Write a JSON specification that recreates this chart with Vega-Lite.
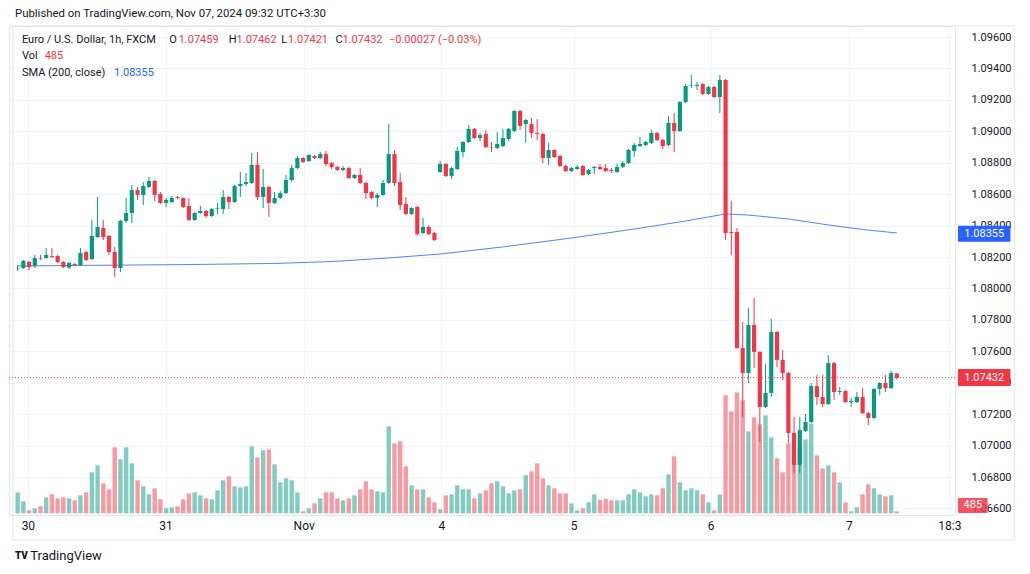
{
"$schema": "https://vega.github.io/schema/vega-lite/v6.json",
"width": 946, "height": 489,
"autosize": {"type": "none"},
"padding": {"left": 9, "top": 26, "right": 75, "bottom": 59},
"background": "#ffffff",
"config": {
  "view": {"stroke": "#E0E3EB"},
  "font": "Roboto",
  "axis": {"domain": false, "ticks": false, "gridColor": "#F0F3FA", "gridWidth": 1, "labelColor": "#131722", "labelFont": "Roboto", "title": null},
  "axisX": {"labelFontSize": 12, "labelPadding": 5},
  "axisY": {"labelFontSize": 11, "labelPadding": 16, "labelOverlap": false, "labelFlush": false, "labelBound": false, "tickCount": 20}
},
"data": {"values": [{}]},
"datasets": {
"candles": [
{"i":0,"o":1.08127,"h":1.08149,"l":1.08111,"c":1.0813,"v":5040},
{"i":1,"o":1.0813,"h":1.08181,"l":1.08124,"c":1.08175,"v":2880},
{"i":2,"o":1.08168,"h":1.08175,"l":1.08117,"c":1.08136,"v":720},
{"i":3,"o":1.08143,"h":1.08213,"l":1.0813,"c":1.08194,"v":1200},
{"i":4,"o":1.08194,"h":1.08213,"l":1.08181,"c":1.08191,"v":1680},
{"i":5,"o":1.08194,"h":1.08257,"l":1.08187,"c":1.08213,"v":3840},
{"i":6,"o":1.08206,"h":1.08257,"l":1.08194,"c":1.082,"v":4560},
{"i":7,"o":1.08206,"h":1.08213,"l":1.08162,"c":1.08168,"v":3600},
{"i":8,"o":1.08168,"h":1.08175,"l":1.0813,"c":1.08136,"v":3840},
{"i":9,"o":1.08133,"h":1.08168,"l":1.08124,"c":1.08162,"v":3600},
{"i":10,"o":1.08155,"h":1.08162,"l":1.08143,"c":1.08149,"v":3120},
{"i":11,"o":1.08149,"h":1.08257,"l":1.08143,"c":1.08226,"v":4320},
{"i":12,"o":1.08232,"h":1.08238,"l":1.08175,"c":1.08181,"v":5040},
{"i":13,"o":1.08187,"h":1.08436,"l":1.08181,"c":1.08334,"v":9840},
{"i":14,"o":1.08327,"h":1.08582,"l":1.08321,"c":1.08391,"v":11520},
{"i":15,"o":1.08385,"h":1.08436,"l":1.08308,"c":1.08327,"v":7200},
{"i":16,"o":1.08334,"h":1.0834,"l":1.08213,"c":1.08232,"v":5760},
{"i":17,"o":1.08232,"h":1.08264,"l":1.08073,"c":1.0813,"v":15840},
{"i":18,"o":1.0813,"h":1.08436,"l":1.08105,"c":1.08429,"v":12960},
{"i":19,"o":1.08429,"h":1.08576,"l":1.08416,"c":1.0848,"v":15840},
{"i":20,"o":1.0848,"h":1.08658,"l":1.08416,"c":1.08626,"v":12000},
{"i":21,"o":1.08626,"h":1.08646,"l":1.08563,"c":1.08595,"v":7920},
{"i":22,"o":1.08595,"h":1.08677,"l":1.08531,"c":1.08652,"v":6480},
{"i":23,"o":1.08646,"h":1.08709,"l":1.08639,"c":1.08684,"v":4560},
{"i":24,"o":1.08684,"h":1.0869,"l":1.08556,"c":1.08595,"v":6000},
{"i":25,"o":1.08601,"h":1.08614,"l":1.08537,"c":1.08544,"v":3360},
{"i":26,"o":1.08544,"h":1.08576,"l":1.08518,"c":1.08563,"v":1200},
{"i":27,"o":1.0855,"h":1.08588,"l":1.08544,"c":1.08576,"v":1440},
{"i":28,"o":1.08582,"h":1.08588,"l":1.08569,"c":1.08576,"v":1680},
{"i":29,"o":1.08576,"h":1.08576,"l":1.08512,"c":1.08518,"v":3360},
{"i":30,"o":1.08525,"h":1.08576,"l":1.08429,"c":1.08436,"v":4800},
{"i":31,"o":1.08436,"h":1.08486,"l":1.08429,"c":1.0848,"v":5040},
{"i":32,"o":1.0848,"h":1.08525,"l":1.08474,"c":1.08493,"v":4320},
{"i":33,"o":1.08493,"h":1.08499,"l":1.08448,"c":1.08461,"v":3600},
{"i":34,"o":1.08461,"h":1.08512,"l":1.08455,"c":1.08505,"v":3360},
{"i":35,"o":1.08505,"h":1.08544,"l":1.08474,"c":1.08509,"v":5520},
{"i":36,"o":1.08505,"h":1.08626,"l":1.08474,"c":1.08582,"v":7920},
{"i":37,"o":1.08582,"h":1.08588,"l":1.08505,"c":1.0855,"v":8880},
{"i":38,"o":1.0855,"h":1.08658,"l":1.08544,"c":1.08652,"v":6480},
{"i":39,"o":1.08652,"h":1.08741,"l":1.08582,"c":1.08665,"v":6240},
{"i":40,"o":1.08665,"h":1.08735,"l":1.08652,"c":1.08677,"v":6480},
{"i":41,"o":1.08671,"h":1.08862,"l":1.08665,"c":1.08786,"v":16080},
{"i":42,"o":1.08786,"h":1.08868,"l":1.08563,"c":1.08582,"v":13440},
{"i":43,"o":1.08582,"h":1.0876,"l":1.08512,"c":1.08646,"v":15120},
{"i":44,"o":1.08646,"h":1.08652,"l":1.08455,"c":1.08544,"v":15360},
{"i":45,"o":1.08544,"h":1.08614,"l":1.08537,"c":1.08576,"v":11760},
{"i":46,"o":1.08576,"h":1.0862,"l":1.08569,"c":1.08607,"v":7440},
{"i":47,"o":1.08607,"h":1.08722,"l":1.08601,"c":1.0869,"v":8400},
{"i":48,"o":1.0869,"h":1.08786,"l":1.08677,"c":1.08766,"v":7920},
{"i":49,"o":1.08766,"h":1.08843,"l":1.0876,"c":1.0883,"v":5040},
{"i":50,"o":1.0883,"h":1.08836,"l":1.08798,"c":1.08805,"v":480},
{"i":51,"o":1.08811,"h":1.08855,"l":1.08805,"c":1.08849,"v":1200},
{"i":52,"o":1.08843,"h":1.08849,"l":1.08824,"c":1.0883,"v":2400},
{"i":53,"o":1.0883,"h":1.08868,"l":1.08824,"c":1.08855,"v":3600},
{"i":54,"o":1.08855,"h":1.08875,"l":1.08779,"c":1.08792,"v":5040},
{"i":55,"o":1.08798,"h":1.08805,"l":1.0876,"c":1.08773,"v":5040},
{"i":56,"o":1.08773,"h":1.08779,"l":1.08747,"c":1.08754,"v":3600},
{"i":57,"o":1.08754,"h":1.08779,"l":1.08747,"c":1.08766,"v":3120},
{"i":58,"o":1.08766,"h":1.08773,"l":1.08696,"c":1.08703,"v":3600},
{"i":59,"o":1.08703,"h":1.08728,"l":1.08696,"c":1.08722,"v":4320},
{"i":60,"o":1.08722,"h":1.08766,"l":1.08665,"c":1.08671,"v":5760},
{"i":61,"o":1.08671,"h":1.08677,"l":1.08569,"c":1.08607,"v":7680},
{"i":62,"o":1.08614,"h":1.0862,"l":1.08569,"c":1.08576,"v":5760},
{"i":63,"o":1.08576,"h":1.08607,"l":1.08518,"c":1.08595,"v":5280},
{"i":64,"o":1.08595,"h":1.0869,"l":1.08588,"c":1.08671,"v":5040},
{"i":65,"o":1.08671,"h":1.09046,"l":1.08665,"c":1.08855,"v":20880},
{"i":66,"o":1.08855,"h":1.08881,"l":1.08652,"c":1.08671,"v":16800},
{"i":67,"o":1.08677,"h":1.08735,"l":1.08499,"c":1.08531,"v":17280},
{"i":68,"o":1.08537,"h":1.08582,"l":1.08467,"c":1.08474,"v":11280},
{"i":69,"o":1.08474,"h":1.08518,"l":1.08467,"c":1.08512,"v":6720},
{"i":70,"o":1.08518,"h":1.08525,"l":1.08334,"c":1.08346,"v":5760},
{"i":71,"o":1.08353,"h":1.08448,"l":1.08346,"c":1.08391,"v":5760},
{"i":72,"o":1.08391,"h":1.08404,"l":1.0834,"c":1.08346,"v":3840},
{"i":73,"o":1.08353,"h":1.08359,"l":1.08302,"c":1.08308,"v":2640},
{"i":74,"o":1.08741,"h":1.08811,"l":1.08735,"c":1.08792,"v":960},
{"i":75,"o":1.08792,"h":1.08798,"l":1.08709,"c":1.08715,"v":4320},
{"i":76,"o":1.08715,"h":1.08773,"l":1.08696,"c":1.08766,"v":4560},
{"i":77,"o":1.0876,"h":1.089,"l":1.08754,"c":1.08875,"v":6720},
{"i":78,"o":1.08868,"h":1.08938,"l":1.08836,"c":1.08932,"v":5760},
{"i":79,"o":1.08932,"h":1.0904,"l":1.08926,"c":1.09015,"v":5760},
{"i":80,"o":1.09015,"h":1.09021,"l":1.08951,"c":1.08957,"v":3600},
{"i":81,"o":1.08957,"h":1.08989,"l":1.08938,"c":1.08976,"v":4800},
{"i":82,"o":1.08983,"h":1.09008,"l":1.08894,"c":1.089,"v":5520},
{"i":83,"o":1.089,"h":1.08932,"l":1.08868,"c":1.08897,"v":7200},
{"i":84,"o":1.08894,"h":1.08995,"l":1.08887,"c":1.08919,"v":7680},
{"i":85,"o":1.08906,"h":1.09015,"l":1.089,"c":1.08957,"v":6480},
{"i":86,"o":1.08951,"h":1.09021,"l":1.08938,"c":1.09015,"v":4800},
{"i":87,"o":1.09002,"h":1.09136,"l":1.08995,"c":1.09129,"v":5520},
{"i":88,"o":1.09129,"h":1.09136,"l":1.09008,"c":1.09034,"v":5760},
{"i":89,"o":1.09046,"h":1.09078,"l":1.08926,"c":1.09072,"v":9120},
{"i":90,"o":1.09046,"h":1.09085,"l":1.08957,"c":1.08989,"v":10080},
{"i":91,"o":1.08989,"h":1.09078,"l":1.08945,"c":1.08983,"v":12000},
{"i":92,"o":1.08983,"h":1.08989,"l":1.08798,"c":1.0883,"v":8400},
{"i":93,"o":1.0883,"h":1.08926,"l":1.08786,"c":1.08881,"v":6720},
{"i":94,"o":1.08881,"h":1.08887,"l":1.0883,"c":1.08836,"v":6000},
{"i":95,"o":1.08843,"h":1.08849,"l":1.08773,"c":1.08779,"v":4800},
{"i":96,"o":1.08779,"h":1.08786,"l":1.08741,"c":1.08747,"v":4800},
{"i":97,"o":1.08747,"h":1.08773,"l":1.08741,"c":1.08766,"v":2400},
{"i":98,"o":1.0876,"h":1.08786,"l":1.08754,"c":1.08773,"v":720},
{"i":99,"o":1.08779,"h":1.08786,"l":1.08715,"c":1.08722,"v":1200},
{"i":100,"o":1.08728,"h":1.0876,"l":1.08722,"c":1.08754,"v":2640},
{"i":101,"o":1.08766,"h":1.08779,"l":1.08728,"c":1.08773,"v":4560},
{"i":102,"o":1.08773,"h":1.08792,"l":1.08754,"c":1.0876,"v":3240},
{"i":103,"o":1.08766,"h":1.08792,"l":1.08741,"c":1.08747,"v":3480},
{"i":104,"o":1.08754,"h":1.08766,"l":1.08735,"c":1.08747,"v":3120},
{"i":105,"o":1.08741,"h":1.08792,"l":1.08735,"c":1.08773,"v":3120},
{"i":106,"o":1.08773,"h":1.08811,"l":1.08766,"c":1.08798,"v":3120},
{"i":107,"o":1.08798,"h":1.08887,"l":1.08792,"c":1.08881,"v":4560},
{"i":108,"o":1.08875,"h":1.08926,"l":1.08836,"c":1.08913,"v":5760},
{"i":109,"o":1.08906,"h":1.08964,"l":1.089,"c":1.08919,"v":5040},
{"i":110,"o":1.08913,"h":1.08938,"l":1.08906,"c":1.08932,"v":4080},
{"i":111,"o":1.08926,"h":1.09008,"l":1.08919,"c":1.08989,"v":4560},
{"i":112,"o":1.08989,"h":1.08995,"l":1.08938,"c":1.08945,"v":4320},
{"i":113,"o":1.08945,"h":1.08951,"l":1.08887,"c":1.08906,"v":6000},
{"i":114,"o":1.08913,"h":1.09097,"l":1.08906,"c":1.09053,"v":9360},
{"i":115,"o":1.09053,"h":1.09116,"l":1.08868,"c":1.09002,"v":13680},
{"i":116,"o":1.09002,"h":1.09193,"l":1.08995,"c":1.09186,"v":7440},
{"i":117,"o":1.09186,"h":1.09301,"l":1.0918,"c":1.09288,"v":5520},
{"i":118,"o":1.09288,"h":1.09358,"l":1.09276,"c":1.09291,"v":6000},
{"i":119,"o":1.09288,"h":1.09314,"l":1.09263,"c":1.09295,"v":5520},
{"i":120,"o":1.09301,"h":1.09307,"l":1.09231,"c":1.09237,"v":4560},
{"i":121,"o":1.09237,"h":1.09288,"l":1.09231,"c":1.09282,"v":2640},
{"i":122,"o":1.09282,"h":1.09288,"l":1.09212,"c":1.09218,"v":720},
{"i":123,"o":1.09218,"h":1.09358,"l":1.09116,"c":1.09326,"v":4560},
{"i":124,"o":1.09326,"h":1.09333,"l":1.08308,"c":1.08353,"v":28320},
{"i":125,"o":1.08359,"h":1.08556,"l":1.08213,"c":1.08353,"v":24480},
{"i":126,"o":1.08359,"h":1.08385,"l":1.07615,"c":1.07621,"v":29040},
{"i":127,"o":1.07621,"h":1.07786,"l":1.07182,"c":1.07462,"v":27120},
{"i":128,"o":1.07462,"h":1.07876,"l":1.07398,"c":1.07767,"v":19680},
{"i":129,"o":1.07767,"h":1.07939,"l":1.07494,"c":1.07596,"v":23040},
{"i":130,"o":1.07596,"h":1.07602,"l":1.07023,"c":1.07246,"v":21360},
{"i":131,"o":1.07246,"h":1.07519,"l":1.07239,"c":1.07335,"v":23520},
{"i":132,"o":1.07335,"h":1.07806,"l":1.07309,"c":1.07723,"v":18240},
{"i":133,"o":1.07723,"h":1.07729,"l":1.075,"c":1.07545,"v":13200},
{"i":134,"o":1.07545,"h":1.07608,"l":1.07417,"c":1.07462,"v":9840},
{"i":135,"o":1.07462,"h":1.07468,"l":1.07016,"c":1.0708,"v":16800},
{"i":136,"o":1.0708,"h":1.07182,"l":1.06826,"c":1.06877,"v":12000},
{"i":137,"o":1.06877,"h":1.07182,"l":1.06826,"c":1.07099,"v":15600},
{"i":138,"o":1.07093,"h":1.07201,"l":1.07086,"c":1.0715,"v":17760},
{"i":139,"o":1.0715,"h":1.07398,"l":1.07144,"c":1.07379,"v":21600},
{"i":140,"o":1.07379,"h":1.07449,"l":1.07258,"c":1.07309,"v":13920},
{"i":141,"o":1.07309,"h":1.07449,"l":1.07246,"c":1.07265,"v":10800},
{"i":142,"o":1.07265,"h":1.07576,"l":1.07258,"c":1.07525,"v":11520},
{"i":143,"o":1.07525,"h":1.07532,"l":1.0729,"c":1.07341,"v":9840},
{"i":144,"o":1.07341,"h":1.07373,"l":1.07322,"c":1.07347,"v":7440},
{"i":145,"o":1.07347,"h":1.07354,"l":1.07271,"c":1.07277,"v":2640},
{"i":146,"o":1.07277,"h":1.07303,"l":1.07246,"c":1.07284,"v":480},
{"i":147,"o":1.07277,"h":1.07341,"l":1.07271,"c":1.07309,"v":1440},
{"i":148,"o":1.07309,"h":1.07366,"l":1.07201,"c":1.07207,"v":4560},
{"i":149,"o":1.07207,"h":1.07214,"l":1.07131,"c":1.07176,"v":6960},
{"i":150,"o":1.07176,"h":1.07366,"l":1.07169,"c":1.0736,"v":6000},
{"i":151,"o":1.0736,"h":1.07405,"l":1.07322,"c":1.07398,"v":4560},
{"i":152,"o":1.07398,"h":1.07449,"l":1.07341,"c":1.07366,"v":4080},
{"i":153,"o":1.07366,"h":1.07475,"l":1.0736,"c":1.07462,"v":4320},
{"i":154,"o":1.07459,"h":1.07462,"l":1.07421,"c":1.07432,"v":485}
],
"sma": [
{"i":0,"s":1.08143},{"i":10,"s":1.08146},{"i":20,"s":1.08149},{"i":30,"s":1.08152},{"i":45,"s":1.08159},{"i":55,"s":1.08171},{"i":65,"s":1.08194},{"i":74,"s":1.08219},{"i":85,"s":1.08264},{"i":97,"s":1.08321},{"i":108,"s":1.08378},{"i":117,"s":1.08429},{"i":124,"s":1.08474},{"i":128,"s":1.08467},{"i":135,"s":1.08442},{"i":142,"s":1.08404},{"i":148,"s":1.08375},{"i":154,"s":1.08353}
]
},
"resolve": {"scale": {"y": "independent"}},
"layer": [
{
  "data": {"name": "candles"},
  "mark": {"type": "bar", "width": 4.4, "opacity": 0.5},
  "encoding": {
    "x": {"field": "i", "type": "quantitative", "title": null,
      "scale": {"domain": [-0.641, 163.31], "nice": false, "zero": false},
      "axis": {"values": [1.79, 25.9, 50.1, 74.2, 97.4, 121.4, 145.6, 163.2], "tickCount": 30,
        "labelExpr": "datum.value < 10 ? '30' : datum.value < 40 ? '31' : datum.value < 60 ? 'Nov' : datum.value < 85 ? '4' : datum.value < 110 ? '5' : datum.value < 135 ? '6' : datum.value < 155 ? '7' : '18:3'",
        "labelOverlap": false, "labelFlush": false, "labelBound": false, "grid": true}},
    "y": {"field": "v", "type": "quantitative", "title": null, "scale": {"domain": [-400, 117000], "nice": false, "zero": false}, "axis": null},
    "y2": {"datum": 0},
    "color": {"condition": {"test": "datum.c >= datum.o", "value": "#089981"}, "value": "#F23645"}
  }
},
{
  "layer": [
    {
      "data": {"name": "sma"},
      "mark": {"type": "line", "color": "#2962FF", "strokeWidth": 1, "opacity": 0.8},
      "encoding": {
        "x": {"field": "i", "type": "quantitative", "title": null},
        "y": {"field": "s", "type": "quantitative", "title": null,
          "scale": {"domain": [1.065583, 1.0967], "nice": false, "zero": false},
          "axis": {"orient": "right", "format": ".5f", "values": [1.066,1.068,1.07,1.072,1.074,1.076,1.078,1.08,1.082,1.084,1.086,1.088,1.09,1.092,1.094,1.096], "tickCount": 20, "labelAlign": "left", "labelOverlap": false, "labelBound": false, "labelFlush": false, "grid": true}}
      }
    },
    {
      "data": {"name": "candles"},
      "mark": {"type": "rule", "strokeWidth": 1},
      "encoding": {
        "x": {"field": "i", "type": "quantitative", "title": null},
        "y": {"field": "l", "type": "quantitative", "title": null},
        "y2": {"field": "h"},
        "color": {"condition": {"test": "datum.c >= datum.o", "value": "#089981"}, "value": "#F23645"}
      }
    },
    {
      "data": {"name": "candles"},
      "mark": {"type": "bar", "width": 4.2},
      "encoding": {
        "x": {"field": "i", "type": "quantitative", "title": null},
        "y": {"field": "o", "type": "quantitative", "title": null},
        "y2": {"field": "c"},
        "color": {"condition": {"test": "datum.c >= datum.o", "value": "#089981"}, "value": "#F23645"}
      }
    },
    {
      "mark": {"type": "rule", "color": "#F23645", "strokeDash": [1, 2], "strokeWidth": 1},
      "encoding": {"y": {"datum": 1.07432, "type": "quantitative"}}
    },
    {
      "mark": {"type": "rect", "color": "#2962FF", "cornerRadius": 1},
      "encoding": {"x": {"datum": 164.7, "type": "quantitative"}, "x2": {"datum": 173.9}, "y": {"datum": 1.08399, "type": "quantitative"}, "y2": {"datum": 1.08297}}
    },
    {
      "mark": {"type": "text", "text": "1.08355", "color": "#ffffff", "fontSize": 11, "align": "center", "baseline": "middle"},
      "encoding": {"x": {"datum": 169.3, "type": "quantitative"}, "y": {"datum": 1.08348, "type": "quantitative"}}
    },
    {
      "mark": {"type": "rect", "color": "#F23645", "cornerRadius": 1},
      "encoding": {"x": {"datum": 164.7, "type": "quantitative"}, "x2": {"datum": 173.9}, "y": {"datum": 1.07487, "type": "quantitative"}, "y2": {"datum": 1.07379}}
    },
    {
      "mark": {"type": "text", "text": "1.07432", "color": "#ffffff", "fontSize": 11, "align": "center", "baseline": "middle"},
      "encoding": {"x": {"datum": 169.3, "type": "quantitative"}, "y": {"datum": 1.07432, "type": "quantitative"}}
    },
    {
      "mark": {"type": "rect", "color": "#F23645", "opacity": 0.85, "cornerRadius": 1},
      "encoding": {"x": {"datum": 164.7, "type": "quantitative"}, "x2": {"datum": 169.9}, "y": {"datum": 1.06666, "type": "quantitative"}, "y2": {"datum": 1.06571}}
    },
    {
      "mark": {"type": "text", "text": "485", "color": "#ffffff", "fontSize": 11, "align": "center", "baseline": "middle"},
      "encoding": {"x": {"datum": 167.3, "type": "quantitative"}, "y": {"datum": 1.06619, "type": "quantitative"}}
    },
    {
      "mark": {"type": "rect", "filled": false, "stroke": "#E0E3EB", "strokeWidth": 1},
      "encoding": {"x": {"datum": -0.81, "type": "quantitative"}, "x2": {"datum": 174.57}, "y": {"datum": 1.0967, "type": "quantitative"}, "y2": {"datum": 1.06399}}
    },
    {
      "mark": {"type": "text", "text": "Published on TradingView.com, Nov 07, 2024 09:32 UTC+3:30", "color": "#131722", "fontSize": 11.4, "align": "left", "baseline": "middle"},
      "encoding": {"x": {"datum": -0.47, "type": "quantitative"}, "y": {"datum": 1.09746, "type": "quantitative"}}
    },
    {
      "mark": {"type": "text", "text": "Euro / U.S. Dollar, 1h, FXCM", "color": "#131722", "fontSize": 11, "align": "left", "baseline": "middle"},
      "encoding": {"x": {"datum": 0.745, "type": "quantitative"}, "y": {"datum": 1.09581, "type": "quantitative"}}
    },
    {
      "mark": {"type": "text", "text": "O", "color": "#131722", "fontSize": 11, "align": "left", "baseline": "middle"},
      "encoding": {"x": {"datum": 26.57, "type": "quantitative"}, "y": {"datum": 1.09581, "type": "quantitative"}}
    },
    {
      "mark": {"type": "text", "text": "1.07459", "color": "#F23645", "fontSize": 11, "align": "left", "baseline": "middle"},
      "encoding": {"x": {"datum": 28.2, "type": "quantitative"}, "y": {"datum": 1.09581, "type": "quantitative"}}
    },
    {
      "mark": {"type": "text", "text": "H", "color": "#131722", "fontSize": 11, "align": "left", "baseline": "middle"},
      "encoding": {"x": {"datum": 36.97, "type": "quantitative"}, "y": {"datum": 1.09581, "type": "quantitative"}}
    },
    {
      "mark": {"type": "text", "text": "1.07462", "color": "#F23645", "fontSize": 11, "align": "left", "baseline": "middle"},
      "encoding": {"x": {"datum": 38.35, "type": "quantitative"}, "y": {"datum": 1.09581, "type": "quantitative"}}
    },
    {
      "mark": {"type": "text", "text": "L", "color": "#131722", "fontSize": 11, "align": "left", "baseline": "middle"},
      "encoding": {"x": {"datum": 46.15, "type": "quantitative"}, "y": {"datum": 1.09581, "type": "quantitative"}}
    },
    {
      "mark": {"type": "text", "text": "1.07421", "color": "#F23645", "fontSize": 11, "align": "left", "baseline": "middle"},
      "encoding": {"x": {"datum": 47.36, "type": "quantitative"}, "y": {"datum": 1.09581, "type": "quantitative"}}
    },
    {
      "mark": {"type": "text", "text": "C", "color": "#131722", "fontSize": 11, "align": "left", "baseline": "middle"},
      "encoding": {"x": {"datum": 55.68, "type": "quantitative"}, "y": {"datum": 1.09581, "type": "quantitative"}}
    },
    {
      "mark": {"type": "text", "text": "1.07432", "color": "#F23645", "fontSize": 11, "align": "left", "baseline": "middle"},
      "encoding": {"x": {"datum": 56.9, "type": "quantitative"}, "y": {"datum": 1.09581, "type": "quantitative"}}
    },
    {
      "mark": {"type": "text", "text": "−0.00027 (−0.03%)", "color": "#F23645", "fontSize": 11, "align": "left", "baseline": "middle"},
      "encoding": {"x": {"datum": 65.04, "type": "quantitative"}, "y": {"datum": 1.09581, "type": "quantitative"}}
    },
    {
      "mark": {"type": "text", "text": "Vol", "color": "#131722", "fontSize": 11, "align": "left", "baseline": "middle"},
      "encoding": {"x": {"datum": 0.745, "type": "quantitative"}, "y": {"datum": 1.09476, "type": "quantitative"}}
    },
    {
      "mark": {"type": "text", "text": "485", "color": "#F23645", "fontSize": 11, "align": "left", "baseline": "middle"},
      "encoding": {"x": {"datum": 4.73, "type": "quantitative"}, "y": {"datum": 1.09476, "type": "quantitative"}}
    },
    {
      "mark": {"type": "text", "text": "SMA (200, close)", "color": "#131722", "fontSize": 11, "align": "left", "baseline": "middle"},
      "encoding": {"x": {"datum": 0.745, "type": "quantitative"}, "y": {"datum": 1.09371, "type": "quantitative"}}
    },
    {
      "mark": {"type": "text", "text": "1.08355", "color": "#2962FF", "fontSize": 11, "align": "left", "baseline": "middle"},
      "encoding": {"x": {"datum": 16.86, "type": "quantitative"}, "y": {"datum": 1.09371, "type": "quantitative"}}
    },
    {
      "mark": {"type": "text", "text": "TV", "color": "#131722", "fontSize": 10, "fontWeight": 900, "align": "left", "baseline": "middle"},
      "encoding": {"x": {"datum": -0.47, "type": "quantitative"}, "y": {"datum": 1.06297, "type": "quantitative"}}
    },
    {
      "mark": {"type": "text", "text": "TradingView", "color": "#131722", "fontSize": 13, "align": "left", "baseline": "middle"},
      "encoding": {"x": {"datum": 2.2, "type": "quantitative"}, "y": {"datum": 1.06297, "type": "quantitative"}}
    }
  ]
}
]
}
